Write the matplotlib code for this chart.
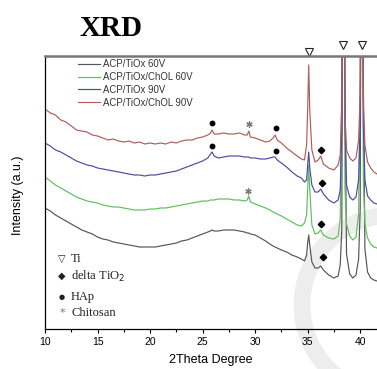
import matplotlib
matplotlib.use("Agg")
import matplotlib.pyplot as plt
from matplotlib.patches import Arc
import numpy as np

# 2theta grid (degrees)
two_theta = [10.0, 10.5, 11, 11.5, 12, 12.5, 13, 13.5, 14, 14.5, 15, 15.5, 16, 16.5, 17, 17.5,
             18, 18.5, 19, 19.5, 20, 20.5, 21, 21.5, 22, 22.5, 23, 23.5, 24, 24.5, 25, 25.5,
             25.75, 25.9, 26.1, 26.5, 27, 27.5, 28, 28.5, 29, 29.25, 29.4, 29.55, 30, 30.5,
             31, 31.4, 31.7, 31.9, 32.1, 32.5, 33, 33.5, 34, 34.4, 34.7, 34.9, 35.0, 35.1,
             35.2, 35.4, 35.7, 36.0, 36.25, 36.5, 37.0, 37.5, 37.9, 38.1, 38.25, 38.4, 38.55,
             38.7, 39.0, 39.3, 39.6, 39.85, 40.0, 40.15, 40.3, 40.45, 40.7, 41.0, 41.3, 41.6]

tiox_60 = [121, 118, 114, 111, 108, 105, 102, 99, 97, 95, 92, 90, 89, 87, 86, 85,
           84, 83, 82, 82, 82, 82, 83, 84, 85, 86, 88, 89, 91, 93, 95, 97,
           98, 99, 98, 98, 99, 99, 99, 98, 97, 96, 96, 95, 94, 91,
           88, 85, 83, 82, 81, 79, 77, 74, 72, 70, 68, 74, 86, 94,
           84, 67, 61, 61, 63, 59, 54, 51, 53, 64, 100, 600, 250,
           75, 55, 51, 54, 70, 120, 600, 250, 80, 57, 51, 49, 48]

chol_60 = [152, 148, 144, 141, 138, 135, 132, 130, 128, 127, 126, 124, 123, 122, 122, 121,
           120, 119, 119, 119, 120, 120, 121, 121, 122, 123, 124, 125, 126, 127, 128, 128,
           129, 129, 129, 130, 130, 130, 129, 129, 128, 129, 133, 127, 125, 123,
           121, 119, 117, 116, 115, 113, 110, 107, 104, 103, 106, 114, 139, 164,
           139, 104, 95, 96, 99, 94, 91, 90, 93, 110, 255, 600, 140,
           105, 93, 89, 92, 115, 255, 600, 150, 105, 91, 85, 82, 81]

tiox_90 = [186, 183, 179, 177, 174, 171, 168, 166, 164, 163, 161, 160, 159, 158, 157, 156,
           155, 154, 154, 153, 154, 154, 155, 156, 157, 158, 160, 162, 164, 166, 168, 171,
           175, 177, 173, 171, 172, 173, 173, 173, 172, 172, 172, 171, 171, 170,
           170, 171, 172, 172, 169, 166, 162, 157, 153, 151, 147, 149, 164, 177,
           161, 144, 137, 137, 140, 135, 129, 126, 129, 139, 200, 600, 205,
           144, 132, 129, 132, 149, 205, 600, 205, 149, 133, 129, 126, 125]

chol_90 = [220, 216, 214, 209, 207, 203, 199, 198, 197, 194, 193, 191, 189, 190, 188, 187,
           188, 186, 187, 185, 186, 185, 186, 185, 187, 186, 188, 189, 189, 191, 192, 194,
           196, 199, 195, 195, 196, 195, 195, 196, 194, 194, 198, 192, 191, 189,
           187, 188, 191, 194, 189, 186, 181, 177, 173, 170, 169, 184, 219, 264,
           219, 179, 167, 169, 173, 165, 161, 159, 164, 174, 225, 600, 215,
           179, 171, 168, 171, 189, 235, 600, 225, 184, 167, 161, 157, 155]

series_labels = ["ACP/TiOx 60V", "ACP/TiOx/ChOL 60V", "ACP/TiOx 90V", "ACP/TiOx/ChOL 90V"]
series_colors = ["#555555", "#5cbf5c", "#4a4aa8", "#b35a5a"]

# phase markers
ti_x = [35.1, 38.4, 40.2]
ti_y = [277, 284, 284]
hap_x = [25.9, 32.0, 25.9, 32.0]
hap_y = [206, 201, 183, 178]
tio2_x = [36.3, 36.4, 36.3, 36.5]
tio2_y = [179, 146, 105, 72]
chit_x = [29.4, 29.3]
chit_y = [205, 138]

plt.rcParams['font.family'] = ['Liberation Sans', 'DejaVu Sans']

fig = plt.figure(figsize=(3.77, 3.69), dpi=100)
W, H = 377, 369

# faint watermark arc
wm = Arc((392 / W, 1 - 305 / H), 2 * 90 / W, 2 * 90 / H, theta1=95, theta2=245,
         transform=fig.transFigure, color='#ededed', lw=12, zorder=-5)
fig.patches.append(wm)

ax = fig.add_axes([45 / W, 1 - 329 / H, 332 / W, 273 / H])
ax.patch.set_alpha(0)

for vals, lab, col in zip([tiox_60, chol_60, tiox_90, chol_90], series_labels, series_colors):
    ax.plot(two_theta, vals, color=col, lw=0.85, label=lab)

ax.plot(ti_x, ti_y, ls='none', marker='v', ms=6, mfc='white', mec='#222222', mew=0.8, clip_on=False)
ax.plot(hap_x, hap_y, ls='none', marker='o', ms=3.2, color='black')
ax.plot(tio2_x, tio2_y, ls='none', marker='D', ms=3.3, color='black')
ax.plot(chit_x, chit_y, ls='none', marker=(6, 2, 0), ms=4.5, color='#777777', mew=0.9)

ax.set_xlim(10, 41.6)
ax.set_ylim(0, 273)
ax.set_xticks([10, 15, 20, 25, 30, 35, 40])
ax.set_xticks(np.arange(12.5, 41.6, 5), minor=True)
ax.set_yticks([])
ax.tick_params(axis='x', which='major', labelsize=7.5, length=3, width=0.8, direction='out', pad=3)
ax.tick_params(axis='x', which='minor', length=2, width=0.8, direction='out')

ax.spines['right'].set_visible(False)
ax.spines['top'].set_color('#777777')
ax.spines['top'].set_linewidth(1.8)
ax.spines['left'].set_linewidth(0.9)
ax.spines['bottom'].set_linewidth(0.9)

ax.set_xlabel("2Theta Degree", fontsize=9, labelpad=5)
fig.text(18 / W, 1 - 195 / H, "Intensity (a.u.)", rotation=90, fontsize=9,
         ha='center', va='center')

fig.text(79 / W, 1 - 36 / H, "XRD", fontsize=21, fontweight='bold',
         family=['Liberation Serif', 'DejaVu Serif'], ha='left', va='baseline')

leg = ax.legend(loc='upper left', bbox_to_anchor=(78 / W, 1 - 59 / H), bbox_transform=fig.transFigure,
                frameon=False, fontsize=6.9, handlelength=2.3, handletextpad=0.35,
                labelspacing=0.3, borderpad=0, borderaxespad=0)
for t in leg.get_texts():
    t.set_color('#333333')

# phase key
key_font = ['Liberation Serif', 'DejaVu Serif']
sym_font = ['DejaVu Sans']
key_rows = [(259, "\u25BD", "Ti", 7), (276, "\u25C6", "delta TiO$_2$", 7), (297, "\u25CF", "HAp", 5),
            (313, "*", "Chitosan", 8)]
for y, sym, txt, ss in key_rows:
    fig.text(62 / W, 1 - y / H, sym, fontsize=ss, family=sym_font, ha='center', va='center',
             color='#222222' if sym != '*' else '#777777')
    fig.text(71 / W, 1 - y / H, txt, fontsize=9, family=key_font, ha='left', va='center',
             color='#222222')

fig.savefig("out.png", dpi=100)
